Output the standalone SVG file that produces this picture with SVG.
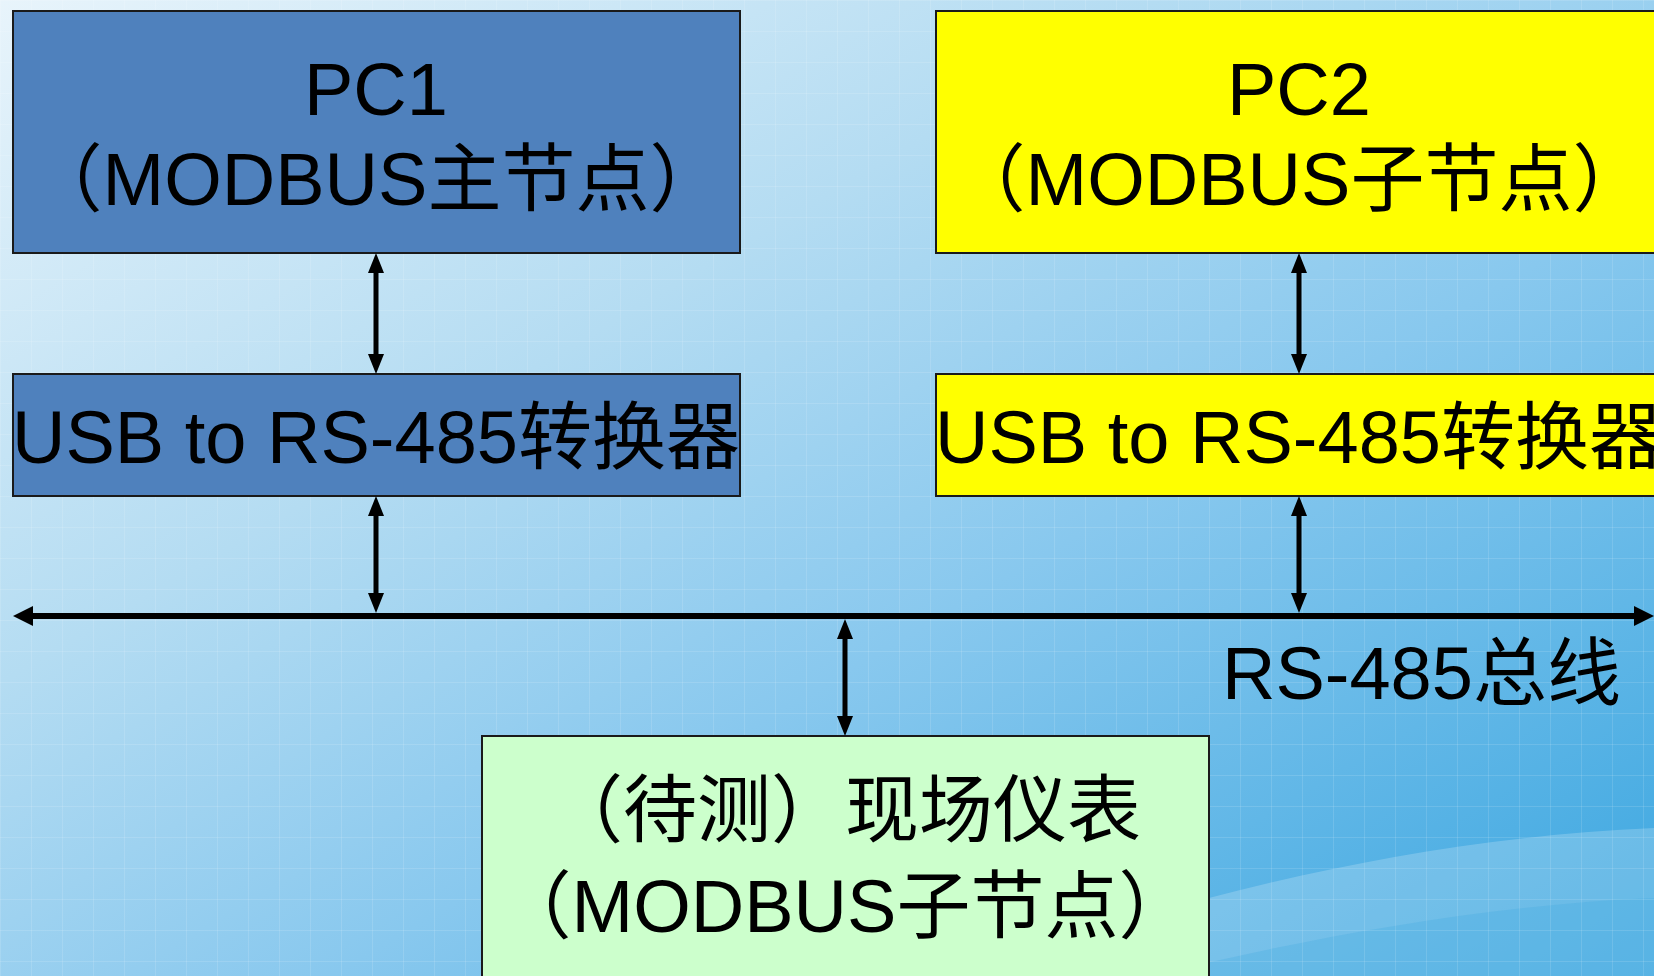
<svg xmlns="http://www.w3.org/2000/svg" width="1654" height="976" viewBox="0 0 1654 976">
<defs>
<linearGradient id="bg" x1="0" y1="0" x2="1" y2="1">
<stop offset="0" stop-color="#e8f4fb"/>
<stop offset="0.35" stop-color="#b4dcf2"/>
<stop offset="0.6" stop-color="#88c8ee"/>
<stop offset="1" stop-color="#3aa6e0"/>
</linearGradient>
<pattern id="grid" width="31" height="31" patternUnits="userSpaceOnUse">
<path d="M0,0.5 H31 M0.5,0 V31" stroke="#ffffff" stroke-opacity="0.12" stroke-width="1" fill="none"/>
</pattern>
<marker id="ah" viewBox="0 0 20 16" markerWidth="20" markerHeight="16" refX="2" refY="8" orient="auto-start-reverse" markerUnits="userSpaceOnUse">
<path d="M0,0 L20,8 L0,16 Z" fill="#000"/>
</marker>
<marker id="ahb" viewBox="0 0 20 20" markerWidth="20" markerHeight="20" refX="2" refY="10" orient="auto-start-reverse" markerUnits="userSpaceOnUse">
<path d="M0,0 L20,10 L0,20 Z" fill="#000"/>
</marker>
<style>
.box{stroke:#1a1a1a;stroke-width:2}
.blue{fill:#4f81bd}
.yellow{fill:#ffff00}
.green{fill:#ccffcc}
.t{font-family:"Liberation Sans","Noto Sans CJK SC",sans-serif;font-size:74px;fill:#000;text-anchor:middle}
.lbl{text-anchor:start}
.conn{stroke:#000;stroke-width:5;fill:none}
.bus{stroke:#000;stroke-width:6;fill:none}
</style>
</defs>
<rect x="0" y="0" width="1654" height="976" fill="url(#bg)"/>
<path d="M950,976 C1150,910 1380,840 1654,828 L1654,976 Z" fill="#ffffff" fill-opacity="0.2"/>
<path d="M1150,976 C1300,940 1480,905 1654,898 L1654,976 Z" fill="#3aa6e0" fill-opacity="0.25"/>
<rect x="0" y="0" width="1654" height="976" fill="url(#grid)"/>

<g id="pc1">
<rect class="box blue" x="13" y="11" width="727" height="242"/>
<text class="t" x="376" y="115">PC1</text>
<text class="t" x="376" y="205">（MODBUS主节点）</text>
</g>
<g id="usb1">
<rect class="box blue" x="13" y="374" width="727" height="122"/>
<text class="t" x="376" y="463">USB to RS-485转换器</text>
</g>
<g id="pc2">
<rect class="box yellow" x="936" y="11" width="727" height="242"/>
<text class="t" x="1299" y="115">PC2</text>
<text class="t" x="1299" y="205">（MODBUS子节点）</text>
</g>
<g id="usb2">
<rect class="box yellow" x="936" y="374" width="727" height="122"/>
<text class="t" x="1299" y="463">USB to RS-485转换器</text>
</g>
<g id="meter">
<rect class="box green" x="482" y="736" width="727" height="250"/>
<text class="t" x="845" y="836">（待测）现场仪表</text>
<text class="t" x="845" y="932">（MODBUS子节点）</text>
</g>
<g id="bus-label">
<text class="t lbl" x="1222" y="699">RS-485总线</text>
</g>

<g id="connectors">
<line class="bus" x1="31" y1="616" x2="1636" y2="616" marker-start="url(#ahb)" marker-end="url(#ahb)"/>
<line class="conn" x1="376" y1="271" x2="376" y2="356" marker-start="url(#ah)" marker-end="url(#ah)"/>
<line class="conn" x1="376" y1="514" x2="376" y2="595" marker-start="url(#ah)" marker-end="url(#ah)"/>
<line class="conn" x1="1299" y1="271" x2="1299" y2="356" marker-start="url(#ah)" marker-end="url(#ah)"/>
<line class="conn" x1="1299" y1="514" x2="1299" y2="595" marker-start="url(#ah)" marker-end="url(#ah)"/>
<line class="conn" x1="845" y1="637" x2="845" y2="718" marker-start="url(#ah)" marker-end="url(#ah)"/>
</g>
</svg>
